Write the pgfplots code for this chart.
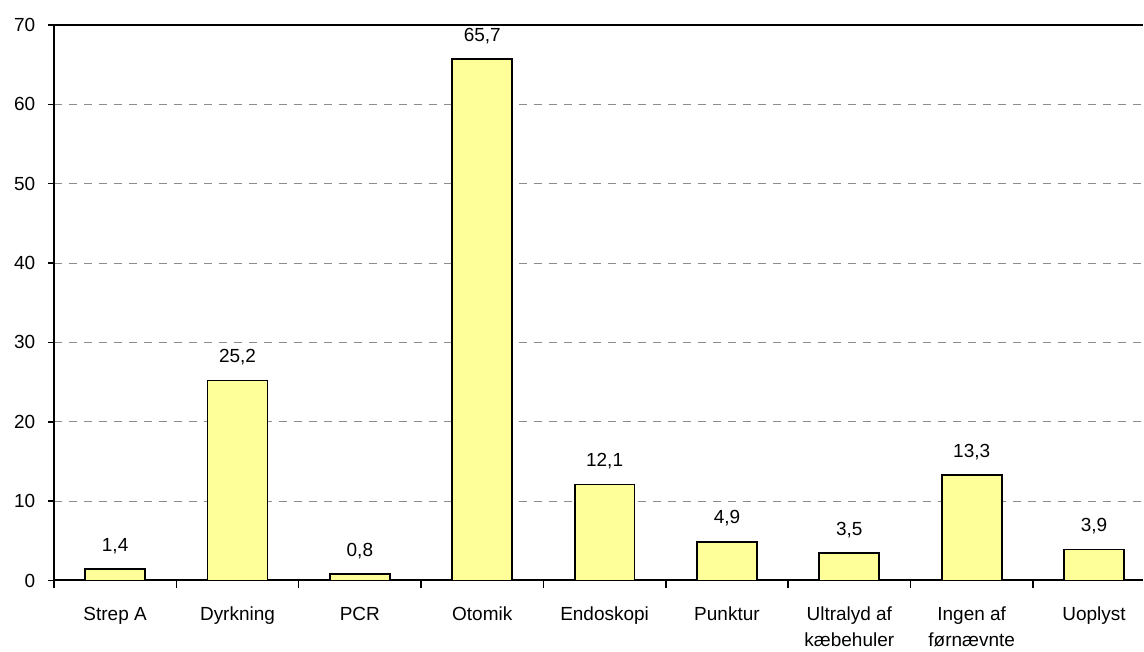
\documentclass[border=0pt]{standalone}
\usepackage{pgfplots}
\pgfplotsset{compat=1.18}
\usepackage{fontspec}
\setmainfont{Liberation Sans}

\definecolor{barfill}{HTML}{FFFF99}
\definecolor{gridgray}{HTML}{8C8C8C}

\begin{document}
\begin{tikzpicture}
\fontsize{9.5}{13}\selectfont
\useasboundingbox (-27pt,-35.5pt) rectangle (545.5pt,290.5pt);
\begin{axis}[
    scale only axis,
    width=545pt, height=278pt,
    axis lines*=left,
    axis line style={black, line width=1pt},
    xmin=-0.5, xmax=8.4,
    ymin=0, ymax=70,
    ytick={0,10,...,70},
    xtick={0,...,8},
    xticklabels={Strep A, Dyrkning, PCR, Otomik, Endoskopi, Punktur,
        {Ultralyd af\\kæbehuler}, {Ingen af\\førnævnte}, Uoplyst},
    minor xtick={-0.5,0.5,...,7.5},
    tick align=outside,
    major x tick style={draw=none},
    minor x tick style={black, line width=0.8pt},
    minor tick length=4pt,
    major tick length=3pt,
    y tick style={black, line width=0.8pt},
    xticklabel style={align=center, anchor=north, yshift=-7pt},
    yticklabel style={xshift=-3pt},
    ymajorgrids,
    grid style={gridgray, dash pattern=on 4pt off 3.5pt, line width=0.5pt},
    /pgf/number format/assume math mode=true,
    /pgf/number format/use comma,
    ybar,
    bar width=0.49,
    nodes near coords={\pgfmathprintnumber[fixed,fixed zerofill,precision=1]{\pgfplotspointmeta}},
    every node near coord/.append style={anchor=south, yshift=4pt, font=\fontsize{9.5}{13}\selectfont},
    tick label style={font=\fontsize{9.5}{13}\selectfont},
]
\addplot[fill=barfill, draw=black, line width=0.9pt] coordinates {
    (0,1.4) (1,25.2) (2,0.8) (3,65.7) (4,12.1) (5,4.9) (6,3.5) (7,13.3) (8,3.9)
};
\draw[black, line width=1pt] (rel axis cs:0,1) -- (rel axis cs:1,1);
\end{axis}
\end{tikzpicture}
\end{document}
